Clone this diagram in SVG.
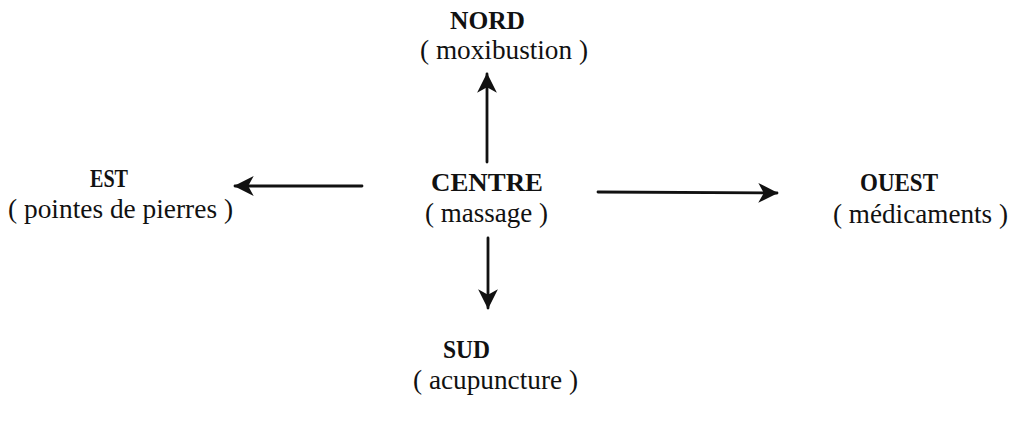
<svg xmlns="http://www.w3.org/2000/svg" width="1022" height="421" viewBox="0 0 1022 421">
<style>
text{font-family:'Liberation Serif','Times New Roman','DejaVu Serif',serif;fill:#111;}
.t{font-weight:bold;font-size:26px;}
.s{font-size:27px;}
.c{fill:none;stroke:#111;stroke-width:2.8;stroke-linecap:round;}
</style>
<defs>
<marker id="ah" viewBox="0 0 20 20" refX="18" refY="10" markerWidth="22" markerHeight="22" markerUnits="userSpaceOnUse" orient="auto">
<path d="M1,1 L19,10 L1,19 L6,10 Z" fill="#111"/>
</marker>
</defs>
<rect width="1022" height="421" fill="#fff"/>
<g id="connectors">
<line class="c" x1="487" y1="162" x2="487" y2="74" marker-end="url(#ah)"/>
<line class="c" x1="362" y1="186" x2="235" y2="186" marker-end="url(#ah)"/>
<line class="c" x1="598" y1="192" x2="777" y2="193" marker-end="url(#ah)"/>
<line class="c" x1="488" y1="238" x2="488" y2="308" marker-end="url(#ah)"/>
</g>
<g id="nord">
<text class="t" x="450" y="29" textLength="75" lengthAdjust="spacingAndGlyphs">NORD</text>
<text class="s" x="420" y="59" textLength="168" lengthAdjust="spacingAndGlyphs">( moxibustion )</text>
</g>
<g id="centre">
<text class="t" x="431" y="191" textLength="112" lengthAdjust="spacingAndGlyphs">CENTRE</text>
<text class="s" x="425" y="222" textLength="123" lengthAdjust="spacingAndGlyphs">( massage )</text>
</g>
<g id="est">
<text class="t" x="90" y="187" textLength="38" lengthAdjust="spacingAndGlyphs">EST</text>
<text class="s" x="8" y="218" textLength="225" lengthAdjust="spacingAndGlyphs">( pointes de pierres )</text>
</g>
<g id="ouest">
<text class="t" x="860" y="191" textLength="78" lengthAdjust="spacingAndGlyphs">OUEST</text>
<text class="s" x="833" y="223" textLength="175" lengthAdjust="spacingAndGlyphs">( médicaments )</text>
</g>
<g id="sud">
<text class="t" x="443" y="358" textLength="47" lengthAdjust="spacingAndGlyphs">SUD</text>
<text class="s" x="413" y="389" textLength="165" lengthAdjust="spacingAndGlyphs">( acupuncture )</text>
</g>
</svg>
